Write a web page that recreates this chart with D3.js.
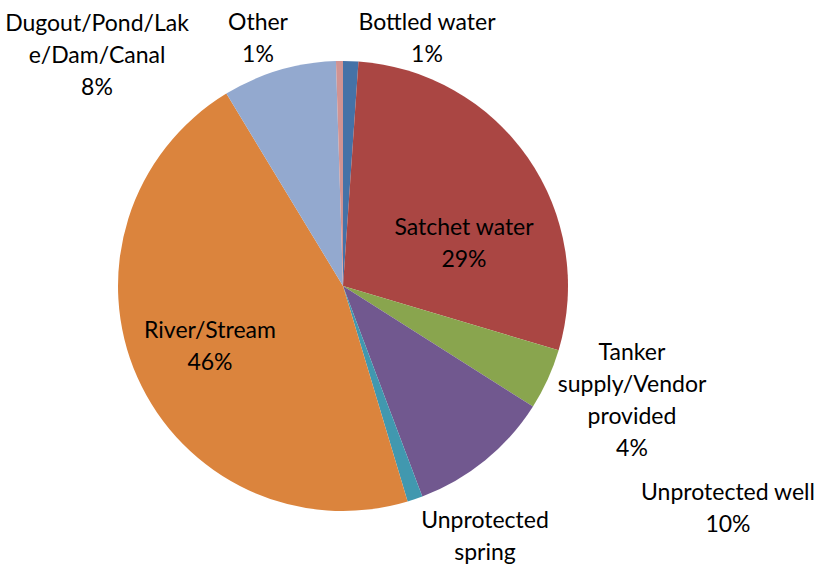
<!DOCTYPE html>
<html>
<head>
<meta charset="utf-8">
<style>
  body { margin: 0; background: #fff; }
  text { font-family: Lato, "Open Sans", sans-serif; fill: #000; }
</style>
<script src="https://d3js.org/d3.v7.min.js"></script>
</head>
<body>
<script>
// drinking water sources, clockwise from 12 o'clock
var sources = ["Bottled water", "Satchet water", "Tanker supply/Vendor provided",
  "Unprotected well", "Unprotected spring", "River/Stream",
  "Dugout/Pond/Lake/Dam/Canal", "Other"];
var shares = [1.1, 28.6, 4.4, 10.3, 1.1, 46.1, 8.2, 0.5];
var colors = ["#4572A7", "#AA4643", "#89A54E", "#71588F", "#4198AF", "#DB843D", "#93A9CF", "#D19392"];

// label lines as they wrap in the original
var labelLines = [
  ["Bottled water"],
  ["Satchet water"],
  ["Tanker", "supply/Vendor", "provided"],
  ["Unprotected well"],
  ["Unprotected", "spring"],
  ["River/Stream"],
  ["Dugout/Pond/Lak", "e/Dam/Canal"],
  ["Other"]
];
// the spring label runs off the bottom edge, its percent is not visible
var showPct = [true, true, true, true, false, true, true, true];
// label block centre, relative to pie centre
var labelOffset = [
  [84, -248], [121, -43], [289, 114], [385, 222],
  [142, 250], [-133, 60], [-246, -231], [-85, -248]
];

var width = 827, height = 564;
var cx = 343, cy = 286, radius = 225;
var lineH = 32;

var svg = d3.select("body").append("svg")
  .attr("width", width).attr("height", height);

var pie = d3.pie().sort(null).value(function(d) { return d; });
var arc = d3.arc().innerRadius(0).outerRadius(radius);
var arcs = pie(shares);

var g = svg.append("g").attr("transform", "translate(" + cx + "," + cy + ")");

g.selectAll("path.slice")
  .data(arcs)
  .enter().append("path")
  .attr("class", "slice")
  .attr("d", arc)
  .attr("fill", function(d, i) { return colors[i]; });

var labels = g.selectAll("text.lbl")
  .data(arcs)
  .enter().append("text")
  .attr("class", "lbl")
  .attr("text-anchor", "middle")
  .attr("font-size", "23px");

labels.each(function(d, i) {
  var lines = labelLines[i].slice();
  if (showPct[i]) lines.push(Math.round(d.data) + "%");
  var x0 = labelOffset[i][0];
  var y0 = labelOffset[i][1] - (lines.length - 1) * lineH / 2;
  var t = d3.select(this);
  lines.forEach(function(s, k) {
    t.append("tspan")
      .attr("x", x0)
      .attr("y", y0 + k * lineH)
      .attr("dy", "0.35em")
      .text(s);
  });
});
</script>
</body>
</html>
